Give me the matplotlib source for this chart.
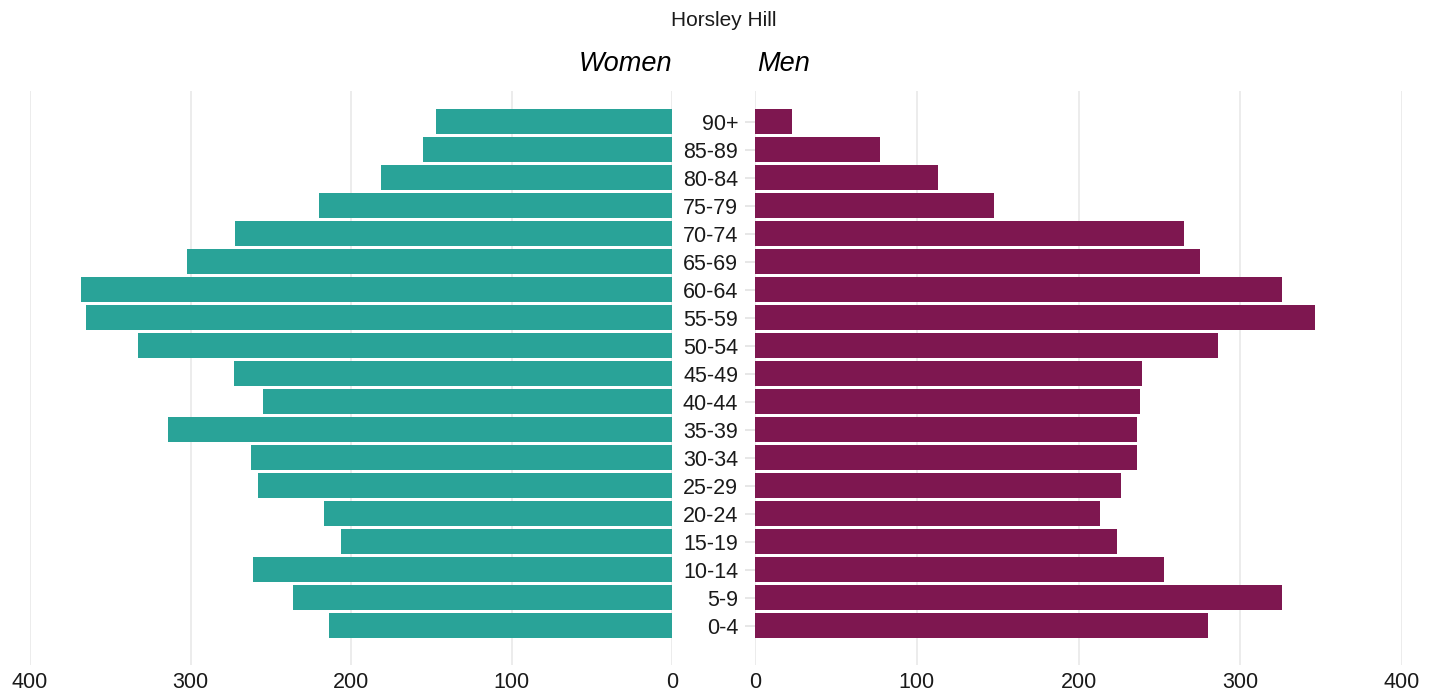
import matplotlib
matplotlib.use("Agg")
from matplotlib import pyplot as plt

# population pyramid, Horsley Hill
ages = ["0-4", "5-9", "10-14", "15-19", "20-24", "25-29", "30-34", "35-39",
        "40-44", "45-49", "50-54", "55-59", "60-64", "65-69", "70-74",
        "75-79", "80-84", "85-89", "90+"]
women = [214, 236, 261, 206, 217, 258, 262, 314, 255, 273, 333, 365, 368,
         302, 272, 220, 181, 155, 147]
men = [280, 326, 253, 224, 213, 226, 236, 236, 238, 239, 286, 346, 326,
       275, 265, 148, 113, 77, 23]
ticks = [0, 100, 200, 300, 400]

teal = "#29a398"
plum = "#7e1750"
grid_col = "#ebebeb"

plt.rcParams["font.family"] = ["Liberation Sans", "DejaVu Sans"]

W, H = 1435, 692
fig = plt.figure(figsize=(W / 100, H / 100), dpi=100)

bottom = (H - 665) / H
height = (665 - 91) / H
ax_w = fig.add_axes([30 / W, bottom, 642 / W, height])
ax_m = fig.add_axes([755 / W, bottom, 647 / W, height])

y = list(range(len(ages)))

ax_w.barh(y, women, height=0.9, color=teal, zorder=2)
ax_m.barh(y, men, height=0.9, color=plum, zorder=2)

for ax in (ax_w, ax_m):
    ax.set_ylim(-1.41, 19.09)
    ax.set_xticks(ticks)
    ax.set_xticklabels([str(t) for t in ticks])
    ax.grid(axis="x", color=grid_col, linewidth=1.3, zorder=0)
    for s in ax.spines.values():
        s.set_visible(False)
    ax.tick_params(axis="x", length=0, pad=5, labelsize=15.5, labelcolor="#1a1a1a")

ax_w.set_xlim(400, 0)
ax_m.set_xlim(0, 400)

ax_w.set_yticks([])
ax_m.set_yticks(y)
ax_m.set_yticklabels(ages)
ax_m.tick_params(axis="y", length=7, width=1.1, color="#e0e0e0", pad=5,
                 labelsize=15.5, labelcolor="#1a1a1a")

fig.text(724 / W, 1 - 25.7 / H, "Horsley Hill", ha="center", va="baseline",
         fontsize=15, color="#1a1a1a")
fig.text(672 / W, 1 - 71 / H, "Women", ha="right", va="baseline",
         fontsize=19.5, style="italic", color="black")
fig.text(757 / W, 1 - 71 / H, "Men", ha="left", va="baseline",
         fontsize=19.5, style="italic", color="black")

plt.savefig("out.png", dpi=100)
